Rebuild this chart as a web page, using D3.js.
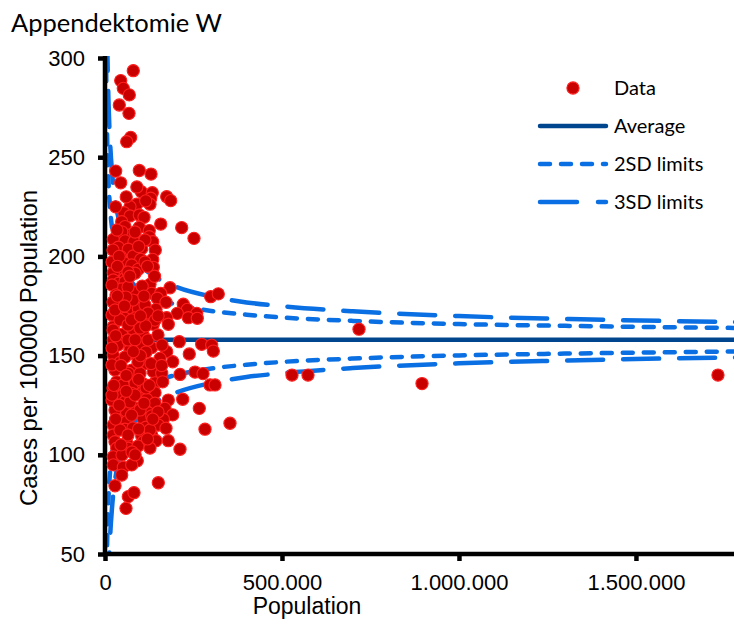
<!DOCTYPE html>
<meta charset="utf-8">
<style>
body { margin: 0; background: #fff; }
svg { display: block; }
.tick text { font-family: "Liberation Sans", Arial, sans-serif; font-size: 22px; fill: #000; }
.axis-title { font-family: "Liberation Sans", Arial, sans-serif; fill: #000; }
.title, .legend text { font-family: Lato, "Noto Sans", sans-serif; fill: #000; }
</style>
<svg id="chart" width="734" height="626"></svg>
<script src="https://cdn.jsdelivr.net/npm/d3@7"></script>
<script>

// scatter data: population of the region and appendectomy cases per 100000
var population = [
  79900, 44400, 51700, 68600, 40400, 67800, 72600, 61300, 30200, 96900,
  130000, 44400, 102500, 133600, 129100, 127100, 174300, 185600, 89600, 70600,
  53700, 70600, 96900, 110200, 47200, 157400, 216700, 251400, 96900, 56500,
  125100, 70600, 47200, 125100, 23400, 56500, 134800, 81900, 37600, 65800,
  103700, 142100, 44400, 79900, 100900, 134800, 53700, 75400, 136400, 94100,
  42400, 23400, 56500, 84800, 23400, 37600, 56500, 127100, 183600, 47200,
  79900, 131900, 157400, 47200, 98900, 147700, 172300, 298600, 320000, 37600,
  65800, 94100, 144100, 221200, 232500, 204200, 259100, 56500, 108200, 174300,
  235300, 260700, 23400, 79900, 136400, 178800, 47200, 108200, 23400, 51700,
  103700, 209900, 273200, 301400, 131900, 306000, 23400, 87600, 174300, 238100,
  42400, 108200, 155400, 191300, 28300, 75400, 136400, 211900, 254300, 276900,
  65800, 98900, 160200, 33100, 84800, 108200, 141300, 163000, 296600, 310800,
  47200, 75400, 108200, 141300, 178800, 219500, 56500, 117800, 141300, 28300,
  61300, 89600, 122300, 169500, 191300, 266400, 37600, 61300, 108200, 131900,
  164700, 23400, 56500, 115800, 150600, 172300, 282500, 353100, 23400, 103700,
  131900, 28300, 61300, 108200, 144100, 178800, 33100, 65800, 211900, 23400,
  91200, 23400, 51700, 75400, 47200, 28300, 150600, 65800, 81900, 59300,
  528300, 573500, 717600, 895600, 1731700,
  19800, 65000, 31100, 79100, 22600, 113000, 59300, 19800, 42400, 84800,
  121500, 22600, 65000, 98900, 36700, 70600, 19800, 115800, 56500, 19800,
  93200, 121500, 149700, 161000, 22600, 50900, 115800, 70600, 19800, 98900,
  149700, 42400, 79100, 93200, 127100, 48000, 76300, 33900, 84800, 113000,
  19800, 65000, 113000, 22600, 28300, 65000, 141300, 84800, 19800, 127100,
  30000, 60000, 90000, 115000, 40000, 95000, 120000, 35000, 105000, 140000,
  30000, 85000, 115000, 45000, 100000, 130000, 25000, 60000, 95000, 125000,
  40000, 75000, 110000, 135000, 30000, 65000, 95000, 120000, 45000, 85000,
  55000, 70000, 110000, 35000, 75000, 150000, 160000, 100000, 60000, 80000
];
var rate = [
  293.6, 288.6, 284.7, 281.4, 276.3, 272.1, 260.0, 257.8, 243.0, 243.3,
  241.5, 237.1, 232.6, 232.1, 229.3, 226.3, 230.1, 228.1, 226.3, 225.1,
  222.0, 220.4, 220.9, 219.7, 217.5, 216.3, 214.5, 209.1, 214.7, 215.0,
  213.0, 210.8, 212.4, 209.9, 208.6, 207.8, 207.4, 207.4, 204.6, 203.6,
  203.9, 203.2, 199.9, 200.2, 198.5, 198.5, 196.8, 195.7, 194.5, 193.5,
  193.1, 191.8, 189.0, 191.5, 188.1, 186.4, 187.2, 185.9, 184.2, 183.6,
  181.9, 181.4, 181.4, 179.2, 178.0, 178.9, 176.9, 179.7, 181.1, 173.8,
  173.8, 173.8, 173.3, 175.9, 173.3, 171.3, 171.3, 168.8, 168.4, 169.1,
  169.1, 168.8, 164.6, 162.9, 165.8, 165.8, 160.7, 160.4, 157.9, 157.0,
  155.8, 157.0, 155.7, 155.3, 154.0, 152.3, 150.3, 150.3, 152.0, 150.8,
  146.6, 145.6, 148.6, 146.9, 142.7, 142.7, 141.9, 140.5, 141.7, 140.9,
  141.1, 141.1, 141.1, 136.8, 136.0, 135.7, 136.3, 136.8, 135.2, 135.2,
  130.1, 131.0, 131.8, 131.3, 127.6, 128.0, 126.8, 128.0, 126.0, 122.6,
  121.2, 123.4, 121.2, 123.4, 120.1, 123.4, 117.5, 116.7, 117.9, 119.6,
  117.9, 115.0, 112.9, 113.9, 115.0, 113.4, 112.9, 115.9, 110.0, 109.5,
  110.0, 106.6, 106.1, 106.6, 107.1, 107.1, 103.3, 103.3, 102.8, 99.0,
  97.0, 94.9, 93.7, 94.9, 89.8, 84.4, 85.9, 78.9, 80.9, 73.0,
  140.2, 140.2, 163.3, 135.9, 140.2,
  185.6, 184.6, 180.6, 178.0, 177.0, 175.5, 179.5, 170.5, 168.0, 169.0,
  171.5, 162.9, 165.4, 163.9, 155.3, 152.8, 153.8, 151.8, 149.3, 145.3,
  146.8, 157.9, 160.4, 155.3, 133.7, 135.2, 133.7, 126.6, 127.6, 122.6,
  121.6, 112.5, 113.5, 104.4, 103.4, 99.9, 101.4, 213.3, 212.3, 208.3,
  197.2, 192.1, 197.2, 203.2, 173.0, 157.9, 167.9, 130.1, 130.1, 112.5,
  225.0, 230.0, 235.0, 228.0, 200.0, 205.0, 195.0, 180.0, 185.0, 190.0,
  160.0, 158.0, 165.0, 145.0, 150.0, 146.0, 135.0, 132.0, 138.0, 135.0,
  125.0, 120.0, 126.0, 118.0, 118.0, 110.0, 113.0, 108.0, 105.0, 100.0,
  175.0, 190.0, 180.0, 195.0, 168.0, 170.0, 145.0, 170.0, 140.0, 152.0
];

// funnel: average and control limits
var average = 158;
var limitPop = [2000, 3000, 5000, 7000, 10000, 15000, 20000, 30000, 40000, 50000, 70000,
  100000, 150000, 200000, 300000, 400000, 500000, 700000, 1000000, 1300000, 1600000, 1800000];
var upper3 = [424.6, 375.7, 326.6, 300.5, 277.3, 255.4, 242.3, 226.9, 217.6, 211.3, 203.1,
  195.7, 188.8, 184.7, 179.8, 176.8, 174.9, 172.3, 169.9, 168.5, 167.4, 166.9];
var upper2 = [335.8, 303.1, 270.4, 253.0, 237.5, 222.9, 214.2, 203.9, 197.7, 193.6, 188.0,
  183.1, 178.5, 175.8, 172.5, 170.6, 169.2, 167.5, 165.9, 165.0, 164.3, 163.9];
var lower2 = [-19.8, 12.9, 45.6, 63.0, 78.5, 93.1, 101.8, 112.1, 118.3, 122.4, 128.0,
  132.9, 137.5, 140.2, 143.5, 145.4, 146.8, 148.5, 150.1, 151.0, 151.7, 152.1];
var lower3 = [-108.6, -59.7, -10.6, 15.5, 38.8, 60.6, 73.7, 89.2, 98.4, 104.7, 112.9,
  120.3, 127.2, 131.3, 136.2, 139.2, 141.1, 143.7, 146.1, 147.5, 148.6, 149.1];

var xTicks = [0, 500000, 1000000, 1500000];
var yTicks = [50, 100, 150, 200, 250, 300];

var red = "#c80000", limitBlue = "#0a6fe2", avgBlue = "#00468e";

var svg = d3.select("#chart");
var m = {left: 105, top: 58, right: 734, bottom: 554};

var x = d3.scaleLinear().domain([0, 1777000]).range([m.left, m.right]);
var y = d3.scaleLinear().domain([50, 300]).range([m.bottom, m.top]);

var de = d3.formatLocale({decimal: ",", thousands: ".", grouping: [3], currency: ["", ""]});
var fmt = de.format(",d");

svg.append("defs").append("clipPath").attr("id", "plot")
  .append("rect").attr("x", m.left).attr("y", m.top - 2)
  .attr("width", m.right - m.left).attr("height", m.bottom - m.top + 2);

// limit lines
var line = d3.line()
  .x(function(d) { return x(d[0]); })
  .y(function(d) { return y(d[1]); })
  .curve(d3.curveMonotoneX);

function series(vals) {
  return limitPop.map(function(p, i) { return [p, vals[i]]; });
}

var lines = svg.append("g").attr("clip-path", "url(#plot)");

lines.append("path")
  .datum([[limitPop[0], average], [limitPop[limitPop.length - 1], average]])
  .attr("d", line).attr("fill", "none")
  .attr("stroke", avgBlue).attr("stroke-width", 4.5);

[upper2, lower2].forEach(function(v) {
  lines.append("path").datum(series(v)).attr("d", line)
    .attr("fill", "none").attr("stroke", limitBlue).attr("stroke-width", 4.5)
    .attr("stroke-linecap", "round").attr("stroke-dasharray", "10 11");
});
[upper3, lower3].forEach(function(v) {
  lines.append("path").datum(series(v)).attr("d", line)
    .attr("fill", "none").attr("stroke", limitBlue).attr("stroke-width", 4.5)
    .attr("stroke-linecap", "round").attr("stroke-dasharray", "36 20");
});

// axes
var xAxis = svg.append("g").attr("transform", "translate(0," + m.bottom + ")")
  .call(d3.axisBottom(x).tickValues(xTicks).tickFormat(fmt).tickSize(7).tickSizeOuter(0).tickPadding(13));
var yAxis = svg.append("g").attr("transform", "translate(" + m.left + ",0)")
  .call(d3.axisLeft(y).tickValues(yTicks).tickSize(7).tickSizeOuter(0).tickPadding(13));

[xAxis, yAxis].forEach(function(a) {
  a.select(".domain").attr("stroke", "#000").attr("stroke-width", 4.5);
  a.selectAll(".tick line").attr("stroke", "#000").attr("stroke-width", 4.5);
});
yAxis.select(".domain").attr("d", "M0," + (m.top - 2) + "V" + (m.bottom + 2));
xAxis.select(".domain").attr("d", "M" + (m.left - 2) + ",0H" + m.right);

// data points
svg.append("g").selectAll("circle")
  .data(population.map(function(p, i) { return [p, rate[i]]; }))
  .enter().append("circle")
    .attr("cx", function(d) { return x(d[0]); })
    .attr("cy", function(d) { return y(d[1]); })
    .attr("r", 6.1)
    .attr("fill", red)
    .attr("stroke", "#ff1f1f")
    .attr("stroke-width", 1.1);

// titles
svg.append("text").attr("class", "title")
  .attr("x", 11).attr("y", 32).style("font-size", "25.5px")
  .text("Appendektomie W");

svg.append("text").attr("class", "axis-title")
  .attr("x", 307).attr("y", 614).attr("text-anchor", "middle")
  .style("font-size", "23px").text("Population");

svg.append("text").attr("class", "axis-title")
  .attr("transform", "translate(37,348) rotate(-90)")
  .attr("text-anchor", "middle").style("font-size", "24px")
  .text("Cases per 100000 Population");

// legend
var legend = svg.append("g").attr("class", "legend");
legend.append("circle").attr("cx", 573).attr("cy", 88).attr("r", 6.1)
  .attr("fill", red).attr("stroke", "#ff1f1f").attr("stroke-width", 1.1);
legend.append("line").attr("x1", 540).attr("x2", 606).attr("y1", 126).attr("y2", 126)
  .attr("stroke", avgBlue).attr("stroke-width", 4.5).attr("stroke-linecap", "round");
legend.append("line").attr("x1", 540).attr("x2", 606).attr("y1", 164).attr("y2", 164)
  .attr("stroke", limitBlue).attr("stroke-width", 4.5).attr("stroke-linecap", "round")
  .attr("stroke-dasharray", "10 11");
legend.append("line").attr("x1", 540).attr("x2", 606).attr("y1", 202).attr("y2", 202)
  .attr("stroke", limitBlue).attr("stroke-width", 4.5).attr("stroke-linecap", "round")
  .attr("stroke-dasharray", "37 21");

var labels = ["Data", "Average", "2SD limits", "3SD limits"];
var labelY = [95, 133, 171, 209];
legend.selectAll("text").data(labels).enter().append("text")
  .attr("x", 614).attr("y", function(d, i) { return labelY[i]; })
  .style("font-size", "20px").text(function(d) { return d; });

</script>
